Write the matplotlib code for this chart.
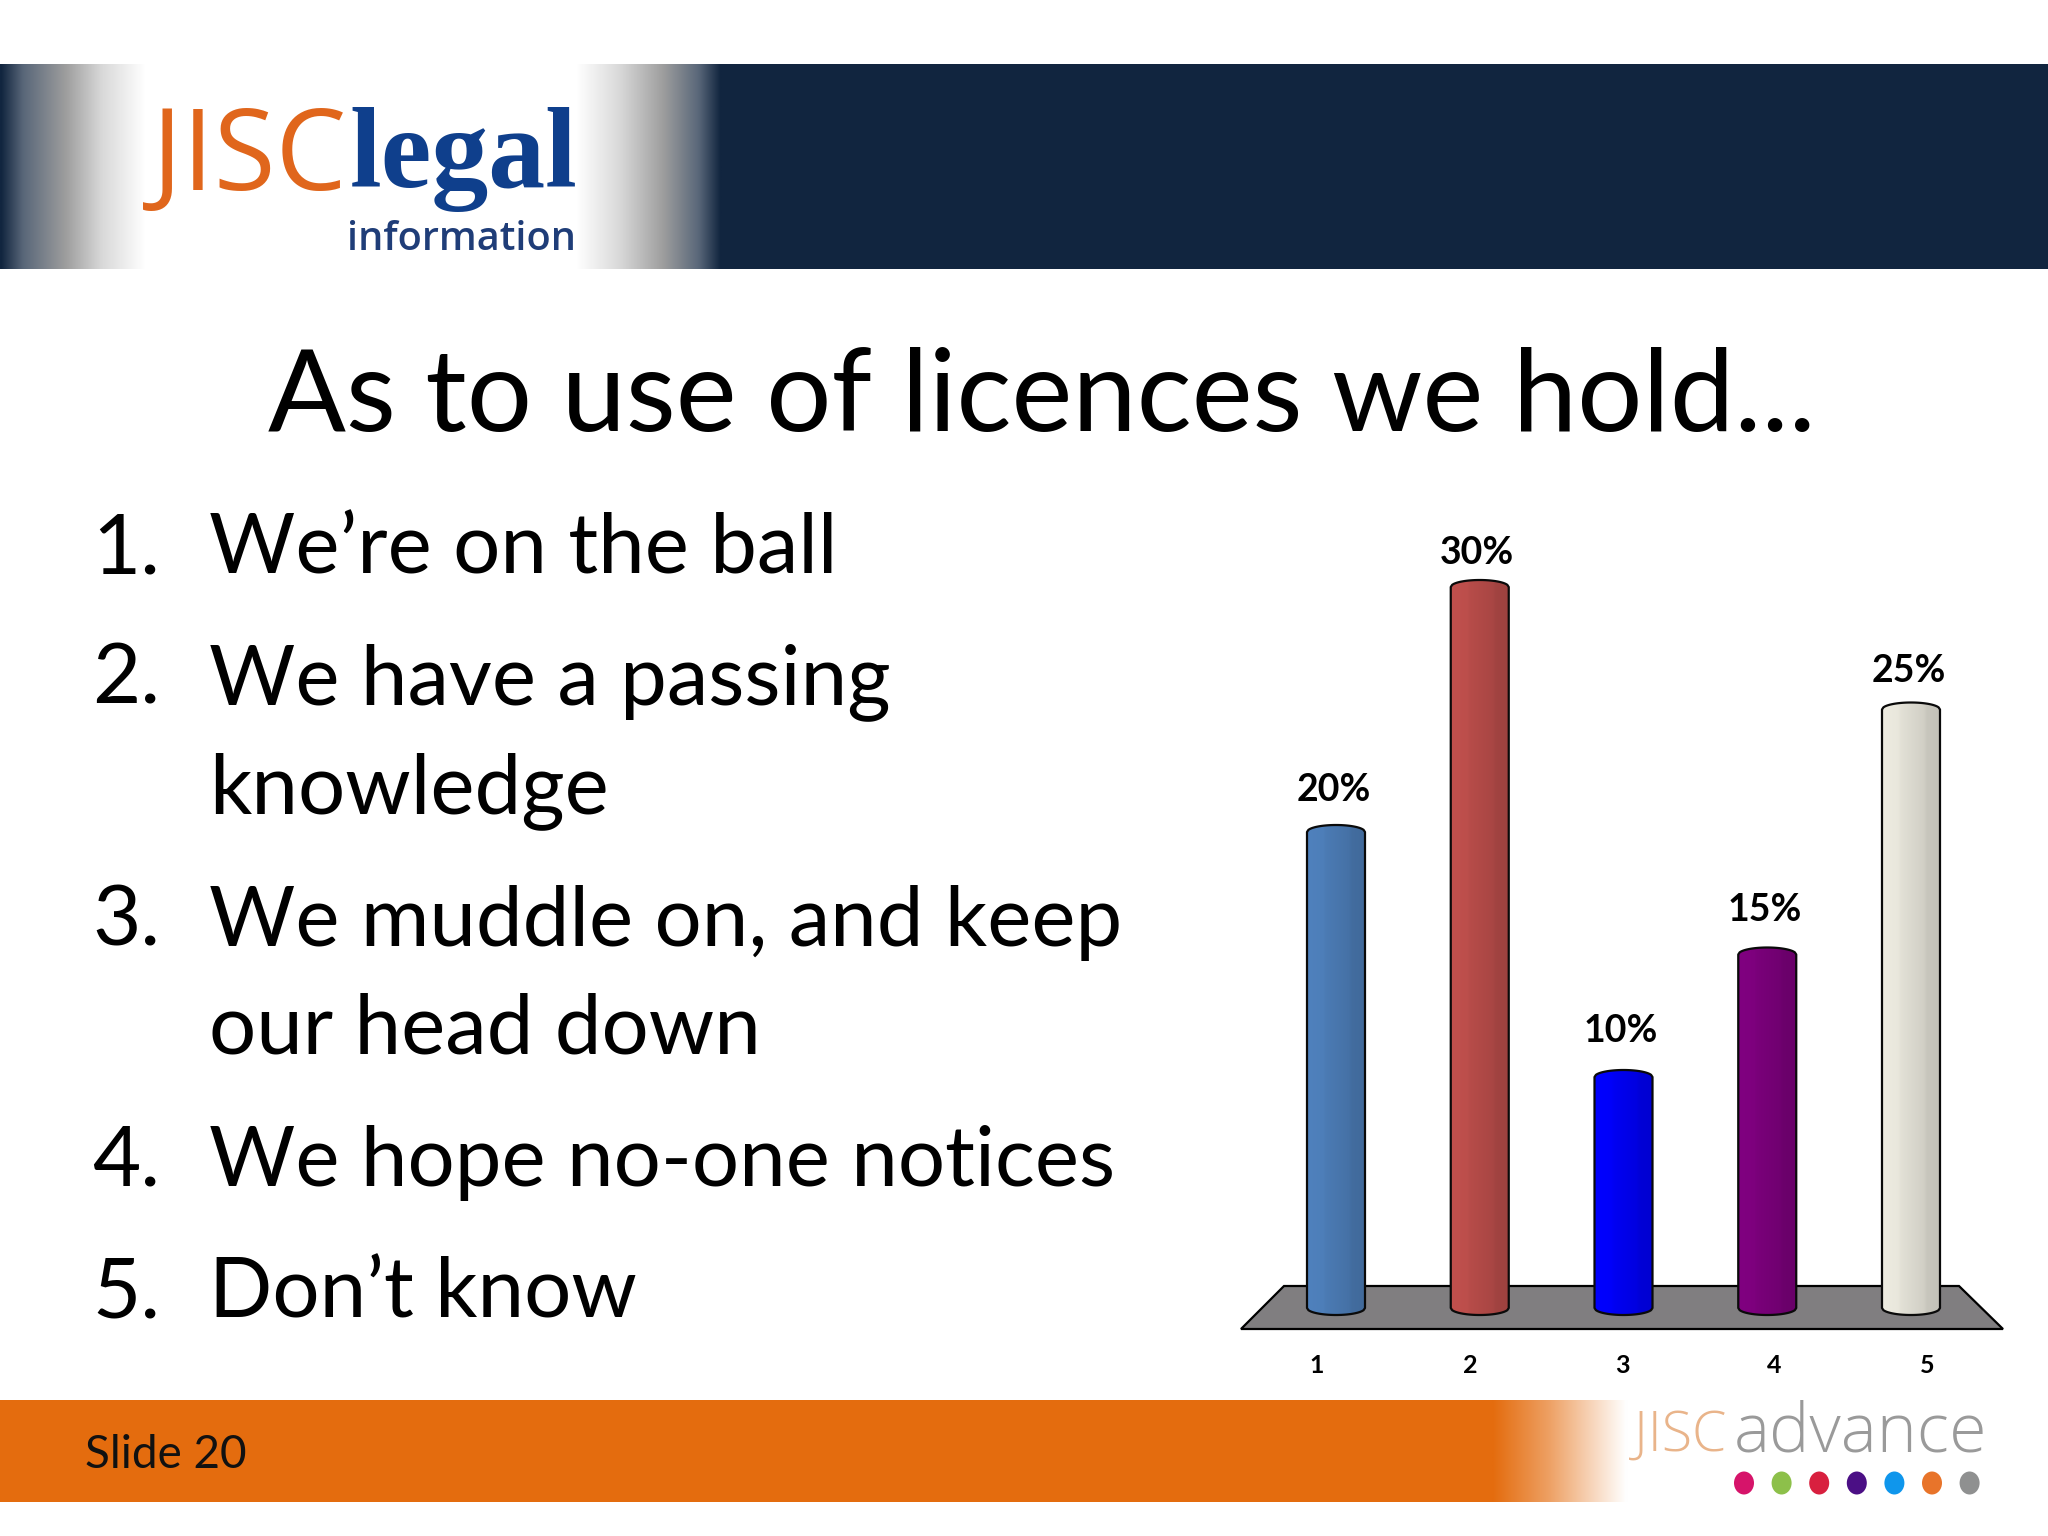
import numpy as np
import matplotlib
matplotlib.use("Agg")
import matplotlib.pyplot as plt
from matplotlib.patches import Polygon, Ellipse
from matplotlib.colors import to_rgb

# --- data
categories = [1, 2, 3, 4, 5]
values = [20, 30, 10, 15, 25]
value_labels = ["20%", "30%", "10%", "15%", "25%"]
tick_labels = ["1", "2", "3", "4", "5"]
bar_colors = ["#4f81bd", "#c0504d", "#0000ff", "#800080", "#eeece1"]
title = "As to use of licences we hold..."
list_numbers = ["1.", "2.", "3.", "4.", "5."]
list_lines = [["We’re on the ball"], ["We have a passing", "knowledge"],
              ["We muddle on, and keep", "our head down"],
              ["We hope no-one notices"], ["Don’t know"]]
dot_colors = ["#d6146a", "#8dc04a", "#d8203f", "#4b0f85", "#0f96ec", "#e8742a", "#8f9090"]

W, H = 2048, 1536
FONT = "Lato"
fig = plt.figure(figsize=(W / 100, H / 100), dpi=100, facecolor="white")

# --- slide layer in pixel coordinates
bg = fig.add_axes([0, 0, 1, 1], zorder=0)
bg.axis("off")

NAVY = np.array(to_rgb("#11253f"))
ORANGE = np.array(to_rgb("#e46c0e"))
WHITE = np.ones(3)

def hgrad(ax, x0, x1, y0, y1, stops, colors):
    xs = np.linspace(0, 1, 256)
    arr = np.stack([np.interp(xs, stops, [c[i] for c in colors]) for i in range(3)], axis=-1)[None, :, :]
    ax.imshow(arr, extent=(x0, x1, y1, y0), aspect="auto", interpolation="bilinear", zorder=1)

bg.fill_between([0, W], 64, 269, color=NAVY, lw=0, zorder=0.5)
hgrad(bg, 0, 722, 64, 269,
      [0, 0.03, 0.09, 0.14, 0.2, 0.8, 0.86, 0.92, 0.97, 1],
      [NAVY, NAVY * 0.7 + 0.3, WHITE * 0.62, WHITE * 0.85, WHITE, WHITE, WHITE * 0.85, WHITE * 0.62, NAVY * 0.7 + 0.3, NAVY])
bg.fill_between([0, W], 1400, 1502, color=ORANGE, lw=0, zorder=0.5)
hgrad(bg, 1492, 2048, 1400, 1502, [0, 0.1, 0.24, 1],
      [ORANGE, ORANGE * 0.65 + WHITE * 0.35, WHITE, WHITE])

# logos
bg.text(152, 190, "JISC", family="Open Sans", fontsize=81, color="#e0661c", va="baseline", zorder=3)
bg.text(350, 187, "legal", family="Liberation Serif", weight="bold", fontsize=82, color="#0f3f8c", va="baseline", zorder=3)
bg.text(347, 250, "information", family="Open Sans", weight="semibold", fontsize=28.5, color="#1f3d78", va="baseline", zorder=3)
bg.text(1634, 1451, "JISC", family="Open Sans", weight="light", fontsize=40, color="#e9b48a", va="baseline", zorder=3)
bg.text(1734, 1451, "advance", family="Open Sans", weight="light", fontsize=49, color="#9a9a9a", va="baseline", zorder=3)
for i, c in enumerate(dot_colors):
    bg.add_patch(Ellipse((1744 + 37.6 * i, 1483), 20, 23, color=c, lw=0, zorder=3))

# slide text
bg.text(1042, 431, title, family=FONT, fontsize=83, ha="center", va="baseline", color="black", zorder=3)
baselines = [[574], [704, 813], [946, 1054], [1186], [1317]]
for num, lines, ys in zip(list_numbers, list_lines, baselines):
    bg.text(92, ys[0], num, family=FONT, fontsize=60, va="baseline", color="black", zorder=3)
    for line, y in zip(lines, ys):
        bg.text(209, y, line, family=FONT, fontsize=60, va="baseline", color="black", zorder=3)
bg.text(85, 1468, "Slide 20", family=FONT, fontsize=33, va="baseline", color="#111111", zorder=3)

# chart floor
bg.add_patch(Polygon([(1284, 1286), (1959, 1286), (2003, 1329), (1241, 1329)], closed=True,
                     facecolor="#807e80", edgecolor="black", lw=1.6, zorder=2))
bg.set_xlim(0, W)
bg.set_ylim(H, 0)

# --- chart layer: scale 24.5 px per percent, 143.75 px per category
left, right, bottom, top = 1241, 2003, 1315, 500
ax = fig.add_axes([left / W, 1 - bottom / H, (right - left) / W, (bottom - top) / H], zorder=1)
ax.patch.set_alpha(0)
PX_X, PX_Y = 143.75, 24.5
xlim = ((left - 1336) / PX_X + 1, (right - 1336) / PX_X + 1)
ylim = (0, (bottom - top) / PX_Y)
half = 29 / PX_X
cap = 7 / PX_Y
shade_stops = [0, 0.28, 0.33, 0.72, 0.78, 1]
shade_vals = [1.0, 0.98, 0.95, 0.88, 0.84, 0.82]
label_gap_px = [23.5, 16, 27.5, 26, 20]
u = np.linspace(-1, 1, 41)
arc = 1 - np.sqrt(1 - u ** 2)

for p, v, col, lab, gap in zip(categories, values, bar_colors, value_labels, label_gap_px):
    xs = p + u * half
    top_edge = v - cap * arc
    bot_edge = cap * arc
    verts = np.vstack([np.column_stack([xs, top_edge]), np.column_stack([xs[::-1], bot_edge[::-1]])])
    patch = Polygon(verts, closed=True, facecolor="none", edgecolor="#0a0a0a", lw=1.6, zorder=3,
                    clip_on=False, joinstyle="round")
    ax.add_patch(patch)
    t = np.linspace(0, 1, 120)
    shade = np.interp(t, shade_stops, shade_vals)
    arr = (np.array(to_rgb(col))[None, :] * shade[:, None])[None, :, :]
    im = ax.imshow(arr, extent=(p - half, p + half, 0, v), aspect="auto", zorder=2, interpolation="bilinear")
    im.set_clip_path(patch)
    ax.annotate(lab, xy=(p, v), xytext=(-2.5 * 0.72, gap * 0.72), textcoords="offset points",
                ha="center", va="baseline", family=FONT, weight="bold", fontsize=27, color="black",
                annotation_clip=False)

ax.set_xlim(*xlim)
ax.set_ylim(*ylim)
tick_offsets = np.array([-19, -10, -1.5, 7, 16]) / PX_X
ax.set_xticks(np.array(categories) + tick_offsets)
ax.set_xticklabels(tick_labels, family=FONT, weight="bold", fontsize=18)
ax.tick_params(axis="x", length=0, pad=28)
ax.set_yticks([])
for s in ax.spines.values():
    s.set_visible(False)

fig.savefig("out.png", dpi=100)
